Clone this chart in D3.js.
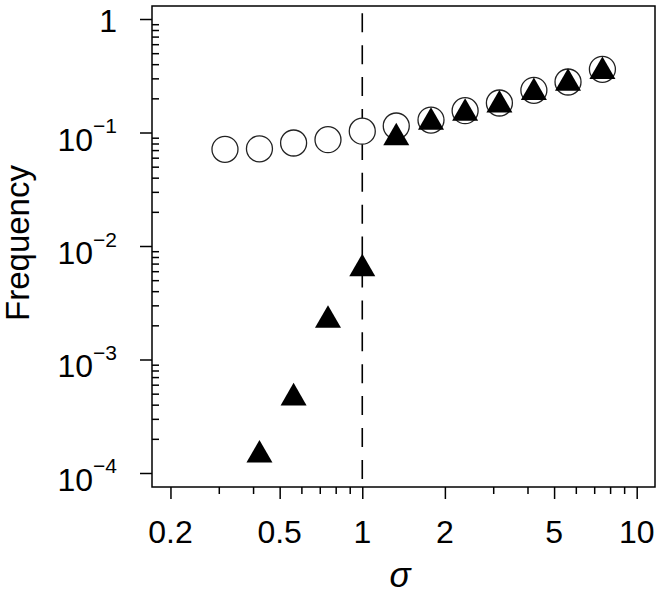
<!DOCTYPE html>
<meta charset="utf-8">
<script src="https://d3js.org/d3.v7.min.js"></script>
<style>
  body { margin: 0; background: #fff; }
  text { font-family: "Liberation Sans", Arial, sans-serif; fill: #000; }
</style>
<svg id="chart" width="663" height="597"></svg>
<script>
  // sigma values (x) and frequencies
  var sigma = [0.316, 0.422, 0.562, 0.750, 1.00, 1.33, 1.78, 2.37, 3.16, 4.22, 5.62, 7.50];
  var circleFreq = [0.0711, 0.0718, 0.0808, 0.0864, 0.1027, 0.1141, 0.1288, 0.1556, 0.1819, 0.2354, 0.2786, 0.3604];
  var triSigma = [0.422, 0.562, 0.750, 1.00, 1.33, 1.78, 2.37, 3.16, 4.22, 5.62, 7.50];
  var triFreq = [0.000144, 0.000459, 0.00222, 0.00631, 0.0898, 0.1232, 0.1479, 0.1750, 0.2256, 0.2719, 0.3446];

  // ticks
  var xMajor = [0.2, 0.5, 1, 2, 5, 10];
  var xLabels = ["0.2", "0.5", "1", "2", "5", "10"];
  var xMinor = [0.3, 0.4, 0.6, 0.7, 0.8, 0.9, 3, 4, 6, 7, 8, 9];
  var yMajor = [1, 1e-1, 1e-2, 1e-3, 1e-4];
  var yExp = [0, -1, -2, -3, -4];

  var svg = d3.select("#chart");
  var pLeft = 152, pRight = 655, pTop = 6, pBottom = 487;

  var x = d3.scaleLog().domain([0.1713, 11.66]).range([pLeft, pRight]);
  var y = d3.scaleLog().domain([7.527e-5, 1.302]).range([pBottom, pTop]);

  // y minor ticks: 2..9 in each decade between 1e-4 and 1
  var yMinor = [];
  [1e-4, 1e-3, 1e-2, 1e-1].forEach(function (d) {
    for (var k = 2; k <= 9; k++) yMinor.push(+(d * k).toPrecision(3));
  });

  // dashed line at sigma = 1
  svg.append("line")
    .attr("x1", x(1)).attr("x2", x(1))
    .attr("y1", pTop).attr("y2", pBottom)
    .attr("stroke", "#000")
    .attr("stroke-width", 1.6)
    .attr("stroke-dasharray", "19 12.9")
    .attr("stroke-dashoffset", 24.6);

  // axes (ticks only, labels are placed by hand for superscripts)
  var gx = svg.append("g").attr("transform", "translate(0," + pBottom + ")");
  gx.call(d3.axisBottom(x).tickValues(xMajor).tickSize(12).tickFormat(""));
  var gxm = svg.append("g").attr("transform", "translate(0," + pBottom + ")");
  gxm.call(d3.axisBottom(x).tickValues(xMinor).tickSize(7).tickFormat(""));

  var gy = svg.append("g").attr("transform", "translate(" + pLeft + ",0)");
  gy.call(d3.axisLeft(y).tickValues(yMajor).tickSize(12).tickFormat(""));
  var gym = svg.append("g").attr("transform", "translate(" + pLeft + ",0)");
  gym.call(d3.axisRight(y).tickValues(yMinor).tickSize(7).tickFormat(""));

  svg.selectAll(".domain").remove();
  svg.selectAll(".tick line").attr("stroke", "#000").attr("stroke-width", 1.5);

  // box
  svg.append("rect")
    .attr("x", pLeft).attr("y", pTop)
    .attr("width", pRight - pLeft).attr("height", pBottom - pTop)
    .attr("fill", "none")
    .attr("stroke", "#000")
    .attr("stroke-width", 1.5);

  // x tick labels
  svg.append("g").selectAll("text")
    .data(xMajor)
    .enter().append("text")
    .attr("x", function (d) { return x(d); })
    .attr("y", 543)
    .attr("text-anchor", "middle")
    .style("font-size", "32px")
    .text(function (d, i) { return xLabels[i]; });

  // y tick labels
  var ylab = svg.append("g").selectAll("text")
    .data(yMajor)
    .enter().append("text")
    .attr("x", 117)
    .attr("y", function (d, i) { return y(d) + (yExp[i] === 0 ? 12.7 : 18); })
    .attr("text-anchor", "end")
    .style("font-size", "32px");
  ylab.each(function (d, i) {
    var t = d3.select(this);
    if (yExp[i] === 0) { t.text("1"); return; }
    t.append("tspan").text("10");
    t.append("tspan")
      .attr("dy", -17.5)
      .style("font-size", "21px")
      .text("\u2212" + (-yExp[i]));
  });

  // axis titles
  svg.append("text")
    .attr("x", 400)
    .attr("y", 587)
    .attr("text-anchor", "middle")
    .style("font-size", "35px")
    .style("font-style", "italic")
    .text("\u03c3");

  svg.append("text")
    .attr("transform", "translate(28.5,243) rotate(-90)")
    .attr("text-anchor", "middle")
    .style("font-size", "33px")
    .text("Frequency");

  // open circles
  svg.append("g").selectAll("circle")
    .data(sigma)
    .enter().append("circle")
    .attr("cx", function (d) { return x(d); })
    .attr("cy", function (d, i) { return y(circleFreq[i]); })
    .attr("r", 13)
    .attr("fill", "#fff")
    .attr("stroke", "#222")
    .attr("stroke-width", 1.3);

  // filled triangles
  var tri = d3.symbol().type(d3.symbolTriangle).size(293);
  svg.append("g").selectAll("path")
    .data(triSigma)
    .enter().append("path")
    .attr("d", tri)
    .attr("transform", function (d, i) {
      return "translate(" + x(d) + "," + y(triFreq[i]) + ")";
    })
    .attr("fill", "#000");
</script>
